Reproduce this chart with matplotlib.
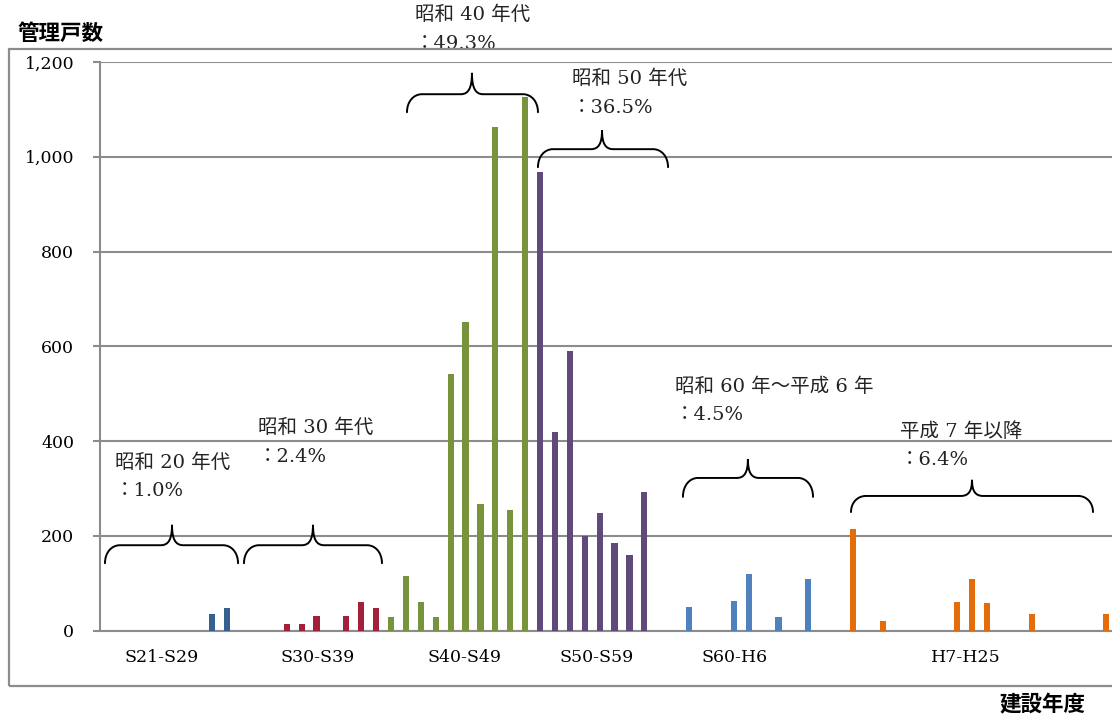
import matplotlib
matplotlib.use("Agg")
import matplotlib.pyplot as plt
from matplotlib.patches import PathPatch, Rectangle
from matplotlib.path import Path
from matplotlib.ticker import FuncFormatter

plt.rcParams["font.family"] = ["DejaVu Serif", "Noto Sans CJK JP"]

# category axis: every construction year S21..S64, H1..H25
years = [f"S{i}" for i in range(21, 65)] + [f"H{i}" for i in range(1, 26)]

# managed units by construction year
s20_years = ["S28", "S29"]
s20_vals = [35, 47]
s30_years = ["S33", "S34", "S35", "S37", "S38", "S39"]
s30_vals = [14, 14, 30, 30, 60, 47]
s40_years = ["S40", "S41", "S42", "S43", "S44", "S45", "S46", "S47", "S48", "S49"]
s40_vals = [29, 116, 60, 29, 541, 652, 266, 1062, 255, 1127]
s50_years = ["S50", "S51", "S52", "S53", "S54", "S55", "S56", "S57"]
s50_vals = [967, 420, 591, 200, 249, 184, 159, 292]
s60_years = ["S60", "S63", "S64", "H2", "H4"]
s60_vals = [49, 62, 119, 29, 108]
h7_years = ["H7", "H9", "H14", "H15", "H16", "H19", "H24"]
h7_vals = [214, 19, 60, 108, 57, 35, 35]

group_labels = ["S21-S29", "S30-S39", "S40-S49", "S50-S59", "S60-H6", "H7-H25"]
group_pos = [3.63, 14.1, 23.96, 32.82, 42.06, 57.6]

notes = [("昭和 20 年代", "：1.0%"), ("昭和 30 年代", "：2.4%"),
         ("昭和 40 年代", "：49.3%"), ("昭和 50 年代", "：36.5%"),
         ("昭和 60 年～平成 6 年", "：4.5%"), ("平成 7 年以降", "：6.4%")]
note_xy = [(0.47, 354), (10.07, 427), (20.6, 1299), (31.14, 1164),
           (38.06, 514), (53.16, 419)]
# x0, x1, peak x, end y, bar y, peak y
braces = [(-0.2, 8.73, 4.3, 142, 180, 223),
          (9.13, 18.39, 13.76, 142, 180, 223),
          (20.07, 28.86, 24.43, 1094, 1132, 1177),
          (28.86, 37.59, 33.16, 978, 1016, 1056),
          (38.59, 47.32, 42.95, 282, 322, 362),
          (49.87, 66.11, 57.99, 250, 284, 318)]

series = [(s20_years, s20_vals, "#35608F"),
          (s30_years, s30_vals, "#A3203A"),
          (s40_years, s40_vals, "#77933C"),
          (s50_years, s50_vals, "#604A7B"),
          (s60_years, s60_vals, "#4F81BD"),
          (h7_years, h7_vals, "#E46C0A")]

GRAY = "#8c8c8c"


def brace(ax, x0, x1, xp, ye, yh, yp, rx=1.0, cx=0.75):
    v = [(x0, ye), (x0, ye + 0.6 * (yh - ye)), (x0 + 0.45 * rx, yh), (x0 + rx, yh),
         (xp - cx, yh),
         (xp - 0.3 * cx, yh), (xp, yh + 0.3 * (yp - yh)), (xp, yp),
         (xp, yh + 0.3 * (yp - yh)), (xp + 0.3 * cx, yh), (xp + cx, yh),
         (x1 - rx, yh),
         (x1 - 0.45 * rx, yh), (x1, ye + 0.6 * (yh - ye)), (x1, ye)]
    c = [Path.MOVETO, Path.CURVE4, Path.CURVE4, Path.CURVE4, Path.LINETO,
         Path.CURVE4, Path.CURVE4, Path.CURVE4, Path.CURVE4, Path.CURVE4, Path.CURVE4,
         Path.LINETO, Path.CURVE4, Path.CURVE4, Path.CURVE4]
    ax.add_patch(PathPatch(Path(v, c), fill=False, edgecolor="black", lw=1.4,
                           clip_on=False, capstyle="round"))


fig = plt.figure(figsize=(11.12, 7.19), dpi=100)
fig.patches.append(Rectangle((9 / 1112, 33 / 719), 1.2, 637 / 719, transform=fig.transFigure,
                             fill=False, edgecolor=GRAY, lw=1.6))
ax = fig.add_axes([100.5 / 1112, 88.5 / 719, 1028.1 / 1112, 568.5 / 719])

for yrs, vals, col in series:
    ax.bar([years.index(y) for y in yrs], vals, width=0.42, color=col, zorder=3)

ax.set_xlim(-0.5, len(years) - 0.5)
ax.set_ylim(0, 1200)
ax.set_yticks(range(0, 1201, 200))
ax.yaxis.set_major_formatter(FuncFormatter(lambda v, p: f"{int(v):,}"))
ax.yaxis.grid(True, color=GRAY, lw=1.5)
ax.set_axisbelow(True)
for s in ["top", "right"]:
    ax.spines[s].set_visible(False)
for s in ["left", "bottom"]:
    ax.spines[s].set_color(GRAY)
    ax.spines[s].set_linewidth(1.5)
ax.tick_params(axis="y", length=5, width=1.5, color=GRAY, pad=14, labelsize=12.5)
ax.set_xticks(group_pos)
ax.set_xticklabels(group_labels)
ax.tick_params(axis="x", length=0, pad=13, labelsize=12.5)

for (l1, l2), (x, y) in zip(notes, note_xy):
    ax.text(x, y, l1, fontsize=14, ha="left", va="center", color="#222222")
    ax.annotate(l2, (x, y), xytext=(0, -20.5), textcoords="offset points",
                fontsize=14, ha="left", va="center", color="#222222",
                annotation_clip=False)

for b in braces:
    brace(ax, *b)

fig.text(17 / 1112, 1 - 33 / 719, "管理戸数", fontsize=15.5, fontweight="bold",
         family="Noto Sans CJK JP", ha="left", va="center")
fig.text(1085 / 1112, 1 - 705 / 719, "建設年度", fontsize=15.5, fontweight="bold",
         family="Noto Sans CJK JP", ha="right", va="center")

fig.savefig("out.png", dpi=100)
